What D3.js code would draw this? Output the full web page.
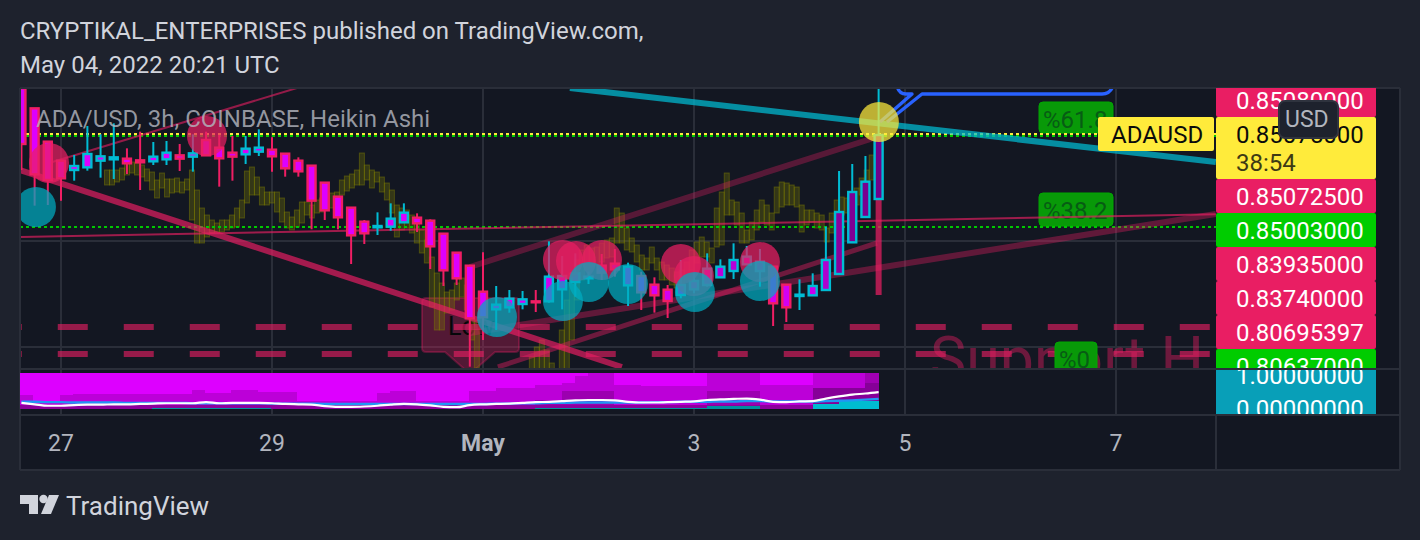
<!DOCTYPE html>
<html><head><meta charset="utf-8">
<script src="https://cdnjs.cloudflare.com/ajax/libs/d3/7.8.5/d3.min.js"></script>
<style>html,body{margin:0;padding:0;background:#1e222d;overflow:hidden}svg{display:block}text{font-family:Roboto,sans-serif}</style>
</head><body><svg id="c" width="1420" height="540"></svg>
<script>
// Prices are in units of 0.0001 USD. Candle index 0 = 27 Apr 00:00, one index = 3 hours.
const firstCandle=-3;
const opens=[8916,8856,8756,8699,8671,8679,8699,8703,8705,8700,8697,8703,8715,8711,8761,8738,8723,8718,8726,8732,8720,8699,8684,8633,8591,8558,8516,8499,8501,8514,8528,8519,8480,8423,8384,8306,8253,8259,8269,8277,8277,8313,8335,8346,8384,8390,8325,8353,8327,8312,8296,8313,8326,8349,8368,8388,8368,8381,8327,8293,8295,8311,8359,8454,8530,8584];
const highs=[8916,8856,8756,8699,8716,8803,8778,8811,8736,8786,8755,8758,8749,8778,8786,8776,8773,8773,8793,8769,8721,8709,8684,8633,8591,8558,8521,8544,8571,8571,8541,8523,8480,8423,8384,8424,8323,8311,8308,8311,8457,8413,8421,8366,8419,8434,8393,8366,8349,8326,8401,8361,8421,8403,8451,8443,8434,8381,8329,8343,8361,8501,8668,8689,8713,8916];
const lows=[8671,8564,8566,8579,8639,8669,8648,8644,8659,8611,8686,8686,8668,8666,8715,8621,8639,8689,8713,8666,8651,8651,8493,8521,8493,8389,8449,8476,8489,8514,8485,8374,8323,8326,8081,8161,8191,8243,8253,8245,8273,8253,8291,8329,8341,8351,8263,8251,8243,8227,8286,8301,8321,8349,8344,8386,8321,8203,8215,8251,8295,8311,8359,8454,8530,8584];
const closes=[8749,8658,8641,8646,8683,8719,8712,8709,8691,8694,8711,8723,8705,8721,8715,8706,8711,8735,8738,8712,8676,8667,8579,8550,8529,8475,8481,8503,8525,8543,8511,8442,8370,8346,8226,8229,8267,8285,8283,8274,8351,8353,8361,8351,8363,8373,8381,8304,8295,8278,8326,8338,8375,8381,8401,8411,8396,8271,8259,8297,8323,8401,8545,8605,8636,8776];

// Olive overlay bars (top, bottom of each bar)
const oliveStart=3.487, oliveStep=0.379;
const oliveTop=[8671,8671,8671,8677,8692,8695,8692,8686,8674,8665,
8641,8662,8644,8644,8647,8635,8644,8671,8611,8557,
8536,8521,8512,8521,8521,8536,8557,8581,8668,8680,
8650,8620,8605,8605,8605,8587,8545,8530,8551,8575,
8575,8566,8581,8587,8602,8602,8605,8641,8653,8659,
8671,8722,8686,8671,8665,8650,8632,8611,8566,8557,
8551,8536,8515,8491,8461,8410,8362,8332,8305,8311,
8332,8347,8326,8281,8221,
null,null,null,null,null,null,null,null,null,null,
8110,8140,8161,8131,8092,null,
8191,8281,8362,8401,8431,8446,8437,8440,8452,
8461,8467,8557,8542,8497,8467,8446,8416,8407,8440,
8407,8395,8386,8377,8365,8371,8395,8431,8455,8470,
8455,8437,8557,8605,8662,8581,8575,8542,8491,8515,
8551,8581,8566,8542,8620,8635,8632,8626,8620,8566,
8551,8551,8542,8536,8497,8542,8581,8590,8587,8596,
8617,8647,8671,8716,8776];
const oliveBottom=[8626,8626,8635,8641,8656,8662,8656,8650,8638,8611,
8587,8617,8590,8602,8605,8602,8611,8521,8452,8452,
8470,8482,8485,8485,8491,8497,8500,8527,8572,8596,
8596,8566,8566,8572,8545,8515,8497,8491,8500,8512,
8536,8527,8542,8545,8557,8557,8566,8596,8608,8617,
8626,8626,8641,8617,8635,8605,8581,8542,8470,8491,
8497,8482,8452,8422,8392,8260,8191,8191,8242,8251,
8281,8290,8251,8161,8077,
null,null,null,null,null,null,null,null,null,null,
8056,8056,8056,8056,8056,null,
8056,8056,8161,8281,8341,8371,8380,8386,8395,
8407,8410,8452,8452,8431,8425,8395,8371,8371,8392,
8371,8341,8341,8326,8317,8326,8341,8371,8392,8410,
8410,8392,8440,8446,8536,8536,8506,8452,8452,8461,
8491,8515,8506,8491,8542,8560,8566,8566,8560,8485,
8506,8515,8497,8491,8455,8482,8506,8536,8542,8551,
8566,8596,8620,8641,8686];

// Oscillator pane, percent of the pane
const oscWhite=[17,13,9,9,11,12,12,13,13,14,15,16,16,16,19,16,17,17,17,16,14,13,12,8,6,6,7,9,12,14,13,10,6,5,11,13,14,15,17,19,20,22,24,25,25,24,20,18,18,19,20,21,25,27,28,29,26,20,19,21,22,29,35,40,43,47];
const oscBlue=[20,20,19,19,18,18,18,18,17,17,17,17,17,16,16,16,16,16,16,15,15,15,15,14,14,14,14,14,14,14,14,14,14,14,14,14,15,15,16,16,17,17,18,18,18,18,18,18,19,19,20,20,20,21,21,22,22,21,21,21,21,22,23,24,26,28];
const heatBright=[39,22,22,39,42,42,42,42,42,42,42,42,42,53,44,44,53,53,47,47,47,22,22,22,22,22,22,44,50,50,22,22,22,22,50,50,58,58,58,67,67,72,92,100,100,67,67,64,64,64,64,64,100,100,100,100,67,67,67,67,100,100,100,100,100];
const heatMedium=[11,11,11,11,11,11,11,11,11,11,11,11,11,11,11,11,11,11,11,11,11,11,11,11,11,11,11,11,11,11,11,11,11,11,11,11,11,11,11,25,25,50,50,50,50,11,11,11,11,11,11,11,50,50,50,50,11,11,11,11,58,58,58,58,72];
const heatTeal=[0,0,0,0,0,0,0,0,0,0,2,2,2,2,2,2,2,2,2,0,0,0,0,0,0,0,0,0,0,0,0,0,0,0,0,0,0,0,0,3,3,3,3,3,3,3,2,2,2,2,2,2,8,8,8,8,0,0,0,0,14,14,22,22,22];

const timeTicks=[[0,"27"],[16,"29"],[32,"May"],[48,"3"],[64,"5"],[80,"7"]];
const gridPrices=[8458,8140];
const supportPrices=[8200,8119];
const fibYellow=8778, fibGreen=8501;
const pinkDots=[[-0.91,8692],[11.07,8773],[38.06,8401],[39.05,8398],[41.02,8401],[47,8389],[47.99,8353],[53,8395]];
const tealDots=[[-1.9,8560],[33.06,8230],[38.06,8278],[40.03,8335],[42.99,8329],[48.07,8305],[53,8338]];
const yellowDots=[[62.02,8815]];
const trendLines=[
 {a:[-3.11,8671],b:[42.53,8080],w:6,c:"#e91e63",o:.68},
 {a:[-0.91,8692],b:[17.89,8917],w:2,c:"#e91e63",o:.6},
 {a:[-3.11,8470],b:[87.57,8538],w:2,c:"#e91e63",o:.65},
 {a:[31,8380],b:[61.87,8770],w:6,c:"#e91e63",o:.32},
 {a:[31,8182],b:[87.57,8539],w:6,c:"#e91e63",o:.36},
 {a:[33.13,8080],b:[61.87,8452],w:5,c:"#e91e63",o:.42},
 {a:[38.59,8917],b:[87.57,8695],w:6,c:"#00bcd4",o:.72}];
const priceLabels=[
 {t:"0.85080000",f:"#e91e63"},{t:"0.85075000",f:"#ffeb3b",tall:1},{t:"0.85072500",f:"#e91e63"},
 {t:"0.85003000",f:"#00cc00"},{t:"0.83935000",f:"#e91e63"},{t:"0.83740000",f:"#e91e63"},
 {t:"0.80695397",f:"#e91e63"},{t:"0.80637000",f:"#00cc00"}];
const oscLabels=["1.00000000","0.00000000"];
const fibLabels=[["%61.8",1039,102,74,31],["%38.2",1039,193,74,33],["%0",1055,342,42,40]];

const L=20,R=1216,T=88,B=368,EDGE=1400;
const svg=d3.select("#c");
const x=d3.scaleLinear().domain([0,16]).range([61,272]);
const y=d3.scaleLinear().domain([8077,8917]).range([368,88]);
const osc=d3.scaleLinear().domain([0,100]).range([409,373]);
const defs=svg.append("defs");
defs.append("clipPath").attr("id","main").append("rect").attr("x",L).attr("y",T).attr("width",R-L).attr("height",B-T);
defs.append("clipPath").attr("id","lab").append("rect").attr("x",R).attr("y",T).attr("width",170).attr("height",B-T);
defs.append("clipPath").attr("id","lab2").append("rect").attr("x",R).attr("y",370).attr("width",170).attr("height",44);

svg.append("rect").attr("width",1420).attr("height",540).attr("fill","#1e222d");
svg.append("rect").attr("x",L).attr("y",T).attr("width",EDGE-L).attr("height",470-T).attr("fill","#131722");

// header
const head=svg.append("g").attr("fill","#d1d4dc").style("font-size","24px");
head.append("text").attr("x",20).attr("y",39).text("CRYPTIKAL_ENTERPRISES published on TradingView.com,");
head.append("text").attr("x",20).attr("y",73).text("May 04, 2022 20:21 UTC");

// grid
const grid=svg.append("g").attr("stroke","#2a2e39").attr("stroke-width",2);
grid.selectAll("line.v").data(timeTicks).join("line").attr("class","v").attr("x1",d=>x(d[0])).attr("x2",d=>x(d[0])).attr("y1",T).attr("y2",414);
grid.selectAll("line.h").data(gridPrices).join("line").attr("class","h").attr("x1",L).attr("x2",R).attr("y1",d=>y(d)).attr("y2",d=>y(d));

const m=svg.append("g").attr("clip-path","url(#main)");
// Support text and Low callout
m.append("text").attr("x",930).attr("y",380).attr("fill","#e91e63").attr("opacity",.42).style("font-size","61px").text("Support H");
m.append("path").attr("d","M426,298H515Q519,298 519,302V348Q519,352 515,352H495L470,374L445,352H426Q422,352 422,348V302Q422,298 426,298Z")
 .attr("fill","#e91e63").attr("fill-opacity",.3).attr("stroke","#e91e63").attr("stroke-opacity",.3).attr("stroke-width",2);
m.append("text").attr("x",448).attr("y",335).attr("fill","#05070a").style("font-size","25px").text("Low");

// olive overlay
const oliveX=k=>x(oliveStart+k*oliveStep);
m.append("g").selectAll("rect").data(oliveTop.map((t,k)=>({t,b:oliveBottom[k],k})).filter(d=>d.t!==null)).join("rect")
 .attr("x",d=>oliveX(d.k)-2.5).attr("width",5).attr("y",d=>y(d.t)).attr("height",d=>y(d.b)-y(d.t))
 .attr("fill","#808000").attr("fill-opacity",.3).attr("stroke","#808000").attr("stroke-opacity",.45).attr("stroke-width",1);

// support dashes
m.append("g").selectAll("line").data(supportPrices).join("line")
 .attr("x1",x(-5.25)).attr("x2",R).attr("y1",d=>y(d)).attr("y2",d=>y(d))
 .attr("stroke","#e91e63").attr("stroke-opacity",.62).attr("stroke-width",6).attr("stroke-dasharray","30 36");

// fib labels
const fib=svg.append("g").attr("clip-path","url(#main)");
fib.selectAll("rect").data(fibLabels).join("rect").attr("x",d=>d[1]).attr("y",d=>d[2]).attr("width",d=>d[3]).attr("height",d=>d[4]).attr("rx",4)
 .attr("fill","#089908").attr("stroke","#00a800").attr("stroke-width",1);
fib.selectAll("text").data(fibLabels).join("text").attr("x",d=>d[1]+4).attr("y",d=>d[2]+26).attr("fill","#075c14").style("font-size","24px").text(d=>d[0]);

// fib lines
const dots=svg.append("g").attr("clip-path","url(#main)").attr("stroke-dasharray","3 3").attr("stroke-width",2).attr("shape-rendering","crispEdges");
dots.append("line").attr("x1",L).attr("x2",R).attr("y1",136).attr("y2",136).attr("stroke","#00c800");
dots.append("line").attr("x1",L).attr("x2",R).attr("y1",134).attr("y2",134).attr("stroke","#ffeb3b");
dots.append("line").attr("x1",L).attr("x2",R).attr("y1",Math.round(y(fibGreen))).attr("y2",Math.round(y(fibGreen))).attr("stroke","#00c800");

// trend lines
const tl=svg.append("g").attr("clip-path","url(#main)");
tl.selectAll("line").data(trendLines).join("line")
 .attr("x1",d=>x(d.a[0])).attr("y1",d=>y(d.a[1])).attr("x2",d=>x(d.b[0])).attr("y2",d=>y(d.b[1]))
 .attr("stroke",d=>d.c).attr("stroke-opacity",d=>d.o).attr("stroke-width",d=>d.w);

// blue callout
svg.append("g").attr("clip-path","url(#main)").append("path")
 .attr("d","M897,86Q899,94 906,94H912L880,122M887,122L922,94H1102Q1110,94 1113,86")
 .attr("fill","none").attr("stroke","#2962ff").attr("stroke-width",3.4).attr("stroke-linejoin","round");

// vertical marker under last candle
tl.append("line").attr("x1",x(62)).attr("x2",x(62)).attr("y1",y(8584)).attr("y2",y(8296)).attr("stroke","#e91e63").attr("stroke-opacity",.72).attr("stroke-width",6);

// candles
const shade=d3.scaleLinear().domain([15,28,35,47]).range(["#dd00ff","#b800d8","#8a009c","#70008a"]).clamp(true);
const candles=opens.map((o,i)=>({t:firstCandle+i,o,h:highs[i],l:lows[i],c:closes[i],s:oscWhite[i]}));
const cg=svg.append("g").attr("clip-path","url(#main)").selectAll("g").data(candles).join("g")
 .attr("stroke",d=>d.c>=d.o?"#00bcd4":"#f01e64");
cg.append("line").attr("x1",d=>x(d.t)).attr("x2",d=>x(d.t)).attr("y1",d=>y(d.h)).attr("y2",d=>y(d.l)).attr("stroke-width",2);
cg.append("rect").attr("x",d=>x(d.t)-4).attr("width",8)
 .attr("y",d=>y(Math.max(d.o,d.c))).attr("height",d=>Math.max(1,y(Math.min(d.o,d.c))-y(Math.max(d.o,d.c))))
 .attr("fill",d=>shade(d.s)).attr("stroke-width",2.4);

// circles
const dotLayer=svg.append("g").attr("clip-path","url(#main)");
const drawDots=(a,c,o)=>dotLayer.append("g").selectAll("circle").data(a).join("circle")
 .attr("cx",d=>x(d[0])).attr("cy",d=>y(d[1])).attr("r",20).attr("fill",c).attr("fill-opacity",o);
drawDots(pinkDots,"#e91e63",.72);
drawDots(tealDots,"#00acc1",.72);
drawDots(yellowDots,"#ffeb3b",.72);

// legend
svg.append("text").attr("x",36).attr("y",127).attr("fill","#b2b5be").attr("fill-opacity",.82).style("font-size","24px").text("ADA/USD, 3h, COINBASE, Heikin Ashi");

// pane separators
const sep=svg.append("g").attr("stroke","#2a2e39").attr("stroke-width",2);
[[L,EDGE,T,T],[L,EDGE,369,369],[L,EDGE,415,415],[L,EDGE,470,470],[L,L,T,470],[R,R,415,470],[EDGE,EDGE,T,470]].forEach(s=>sep.append("line").attr("x1",s[0]).attr("x2",s[1]).attr("y1",s[2]).attr("y2",s[3]));

// oscillator heat map
const colW=(x(62)-L)/65;
const heat=svg.append("g");
const colX=i=>L+i*colW;
heatBright.forEach((v,i)=>{
 const g=heat.append("g").attr("shape-rendering","crispEdges");
 const add=(a,b,c)=>g.append("rect").attr("x",colX(i)).attr("width",colW+.3).attr("y",osc(a)).attr("height",osc(b)-osc(a)).attr("fill",c);
 add(100,0,"#8c009c");
 add(v,heatMedium[i],i===64?"#a000b4":"#bc00d8");
 add(heatMedium[i],11,heatMedium[i]>=58?"#860098":"#9c00b0");
 add(100,v,"#dd00ff");
 if(heatTeal[i]>0) add(heatTeal[i],0,heatTeal[i]>=14?"#00bcd0":"#008f9f");
});
const oscX=d3.scaleLinear().domain([0,65]).range([x(-3),x(62)]);
const oscLine=d3.line().x((d,i)=>oscX(i)).y(d=>osc(d)).curve(d3.curveMonotoneX);
svg.append("path").attr("d",oscLine(oscBlue)).attr("fill","none").attr("stroke","#2196f3").attr("stroke-width",2.4);
svg.append("path").attr("d",oscLine(oscWhite)).attr("fill","none").attr("stroke","#fff").attr("stroke-width",2.2);

// price labels
const lab=svg.append("g").attr("clip-path","url(#lab)").style("font-size","24px");
let slotTop=83;
priceLabels.forEach(p=>{
 const h=p.tall?62:34;
 const yy=p.tall?117:slotTop;
 lab.append("rect").attr("x",R).attr("y",yy).attr("width",160).attr("height",h).attr("rx",2).attr("fill",p.f);
 lab.append("text").attr("x",1236).attr("y",yy+26).attr("fill",p.tall?"#0b0b0b":"#fff").text(p.t);
 if(p.tall) lab.append("text").attr("x",1236).attr("y",yy+54).attr("fill","#3e3a14").text("38:54");
 slotTop=yy+h;
});
const lab2=svg.append("g").attr("clip-path","url(#lab2)").style("font-size","24px");
oscLabels.forEach((t,i)=>{
 const yy=i===0?358:392;
 lab2.append("rect").attr("x",R).attr("y",yy).attr("width",160).attr("height",i===0?34:30).attr("fill","#089fb8");
 lab2.append("text").attr("x",1236).attr("y",yy+(i===0?26:25)).attr("fill","#fff").text(t);
});
// ADAUSD tag and USD badge
svg.append("rect").attr("x",1098).attr("y",117).attr("width",116).attr("height",34).attr("rx",2).attr("fill","#ffeb3b");
svg.append("text").attr("x",1111).attr("y",143).attr("fill","#0b0b0b").style("font-size","24px").text("ADAUSD");
svg.append("rect").attr("x",1279).attr("y",101).attr("width",59).attr("height",37).attr("rx",6).attr("fill","#1e222d").attr("stroke","#2f333e").attr("stroke-width",2);
svg.append("text").attr("x",1285).attr("y",127).attr("fill","#b2b5be").style("font-size","23px").text("USD");

// time axis
svg.append("g").selectAll("text").data(timeTicks).join("text")
 .attr("x",d=>x(d[0])).attr("y",451).attr("text-anchor","middle").attr("fill","#b2b5be")
 .style("font-size","23px").style("font-weight",d=>d[1]==="May"?700:400).text(d=>d[1]);

// brand
const logo=svg.append("g").attr("fill","#d1d4dc");
logo.append("path").attr("d","M20,495H38V514H29V504H20Z");
logo.append("circle").attr("cx",43.5).attr("cy",499).attr("r",4.2);
logo.append("path").attr("d","M49,495H59L51,514H41Z");
svg.append("text").attr("x",66).attr("y",515).attr("fill","#d1d4dc").style("font-size","26px").text("TradingView");
</script></body></html>
